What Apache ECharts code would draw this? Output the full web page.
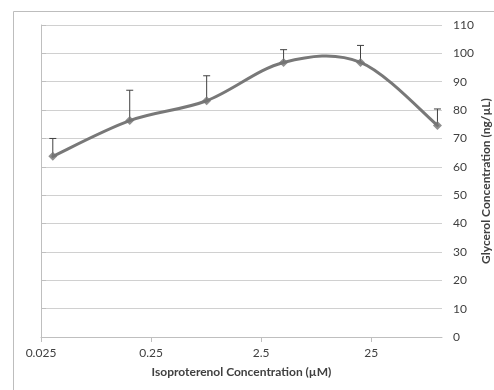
<!DOCTYPE html>
<html>
<head>
<meta charset="utf-8">
<script src="https://cdn.jsdelivr.net/npm/echarts@6/dist/echarts.min.js"></script>
<style>
html,body{margin:0;padding:0;background:#fff;}
#chart{width:494px;height:390px;}
</style>
</head>
<body>
<div id="chart"></div>
<script>
// Data
const concentrations = [0.032, 0.16, 0.8, 4, 20, 100];   // µM
const glycerol = [63.7, 76.3, 83.3, 96.8, 96.8, 74.6];   // ng/µL
const errorTop = [70.0, 87.0, 92.1, 101.3, 102.8, 80.4]; // mean + error
const xTickLabels = ['0.025', '0.25', '2.5', '25'];
const xAxisMinConc = 0.025;
const xAxisMaxConc = 110;

// log-decade position relative to the axis minimum (axis shows a log scale starting at 0.025)
const toDecade = c => Math.log10(c / xAxisMinConc);

const lineData = concentrations.map((c, i) => [toDecade(c), glycerol[i]]);
const errData = concentrations.map((c, i) => [toDecade(c), glycerol[i], errorTop[i]]);

const font = 'Lato, "Liberation Sans", sans-serif';
const chart = echarts.init(document.getElementById('chart'), null, {renderer: 'canvas'});
chart.setOption({
  animation: false,
  backgroundColor: '#fff',
  graphic: [{
    type: 'polyline',
    shape: {points: [[13.5, 400], [13.5, 11.5], [500, 11.5]]},
    style: {stroke: '#bdbdbd', lineWidth: 1, fill: null}
  }],
  grid: {left: 41, right: 52, top: 25, bottom: 53, containLabel: false, outerBoundsMode: 'none'},
  xAxis: {
    type: 'value',
    min: 0,
    max: toDecade(xAxisMaxConc),
    interval: 1,
    axisLine: {show: true, lineStyle: {color: '#bfbfbf', width: 1}},
    axisTick: {show: true, length: 5, lineStyle: {color: '#bfbfbf'}},
    splitLine: {show: false},
    axisLabel: {
      margin: 10,
      color: '#404040',
      fontFamily: font,
      fontSize: 12,
      showMaxLabel: false,
      formatter: v => {
        const k = Math.round(v);
        return (Math.abs(v - k) < 1e-6 && k < xTickLabels.length) ? xTickLabels[k] : '';
      }
    },
    name: 'Isoproterenol Concentration (µM)',
    nameLocation: 'middle',
    nameGap: 29,
    nameMoveOverlap: false,
    nameTextStyle: {fontFamily: font, fontSize: 12, fontWeight: 'bold', color: '#404040', verticalAlign: 'top'}
  },
  yAxis: {
    type: 'value',
    position: 'right',
    min: 0,
    max: 110,
    interval: 10,
    axisLine: {show: true, lineStyle: {color: '#bfbfbf', width: 1}},
    axisTick: {show: true, length: 5, lineStyle: {color: '#bfbfbf'}},
    splitLine: {show: true, lineStyle: {color: '#d0d0d0', width: 1}},
    axisLabel: {margin: 11, color: '#404040', fontFamily: font, fontSize: 12},
    name: 'Glycerol Concentration (ng/µL)',
    nameLocation: 'middle',
    nameRotate: 90,
    nameGap: 38,
    nameMoveOverlap: false,
    nameTextStyle: {fontFamily: font, fontSize: 12, fontWeight: 'bold', color: '#404040'}
  },
  series: [
    {
      type: 'custom',
      data: errData,
      z: 1,
      renderItem: (params, api) => {
        const x = api.value(0);
        const p0 = api.coord([x, api.value(1)]);
        const p1 = api.coord([x, api.value(2)]);
        const hw = 3.5;
        const st = {stroke: '#404040', lineWidth: 1};
        return {
          type: 'group',
          children: [
            {type: 'line', shape: {x1: p0[0], y1: p0[1], x2: p1[0], y2: p1[1]}, style: st},
            {type: 'line', shape: {x1: p1[0] - hw, y1: p1[1], x2: p1[0] + hw, y2: p1[1]}, style: st}
          ]
        };
      }
    },
    {
      // Excel-style (Catmull-Rom) smoothed line between consecutive points
      type: 'custom',
      data: lineData,
      z: 2,
      renderItem: (params, api) => {
        const i = params.dataIndex;
        if (i >= lineData.length - 1) return null;
        const P = j => api.coord(lineData[Math.max(0, Math.min(lineData.length - 1, j))]);
        const p0 = P(i - 1), p1 = P(i), p2 = P(i + 1), p3 = P(i + 2);
        const c1 = [p1[0] + (p2[0] - p0[0]) / 6, p1[1] + (p2[1] - p0[1]) / 6];
        const c2 = [p2[0] - (p3[0] - p1[0]) / 6, p2[1] - (p3[1] - p1[1]) / 6];
        return {
          type: 'bezierCurve',
          shape: {x1: p1[0], y1: p1[1], x2: p2[0], y2: p2[1],
                  cpx1: c1[0], cpy1: c1[1], cpx2: c2[0], cpy2: c2[1]},
          style: {stroke: '#787878', lineWidth: 3, fill: null, lineCap: 'round'}
        };
      }
    },
    {
      type: 'scatter',
      data: lineData,
      z: 3,
      symbol: 'diamond',
      symbolSize: 9,
      itemStyle: {color: '#737373'}
    }
  ]
});
</script>
</body>
</html>
